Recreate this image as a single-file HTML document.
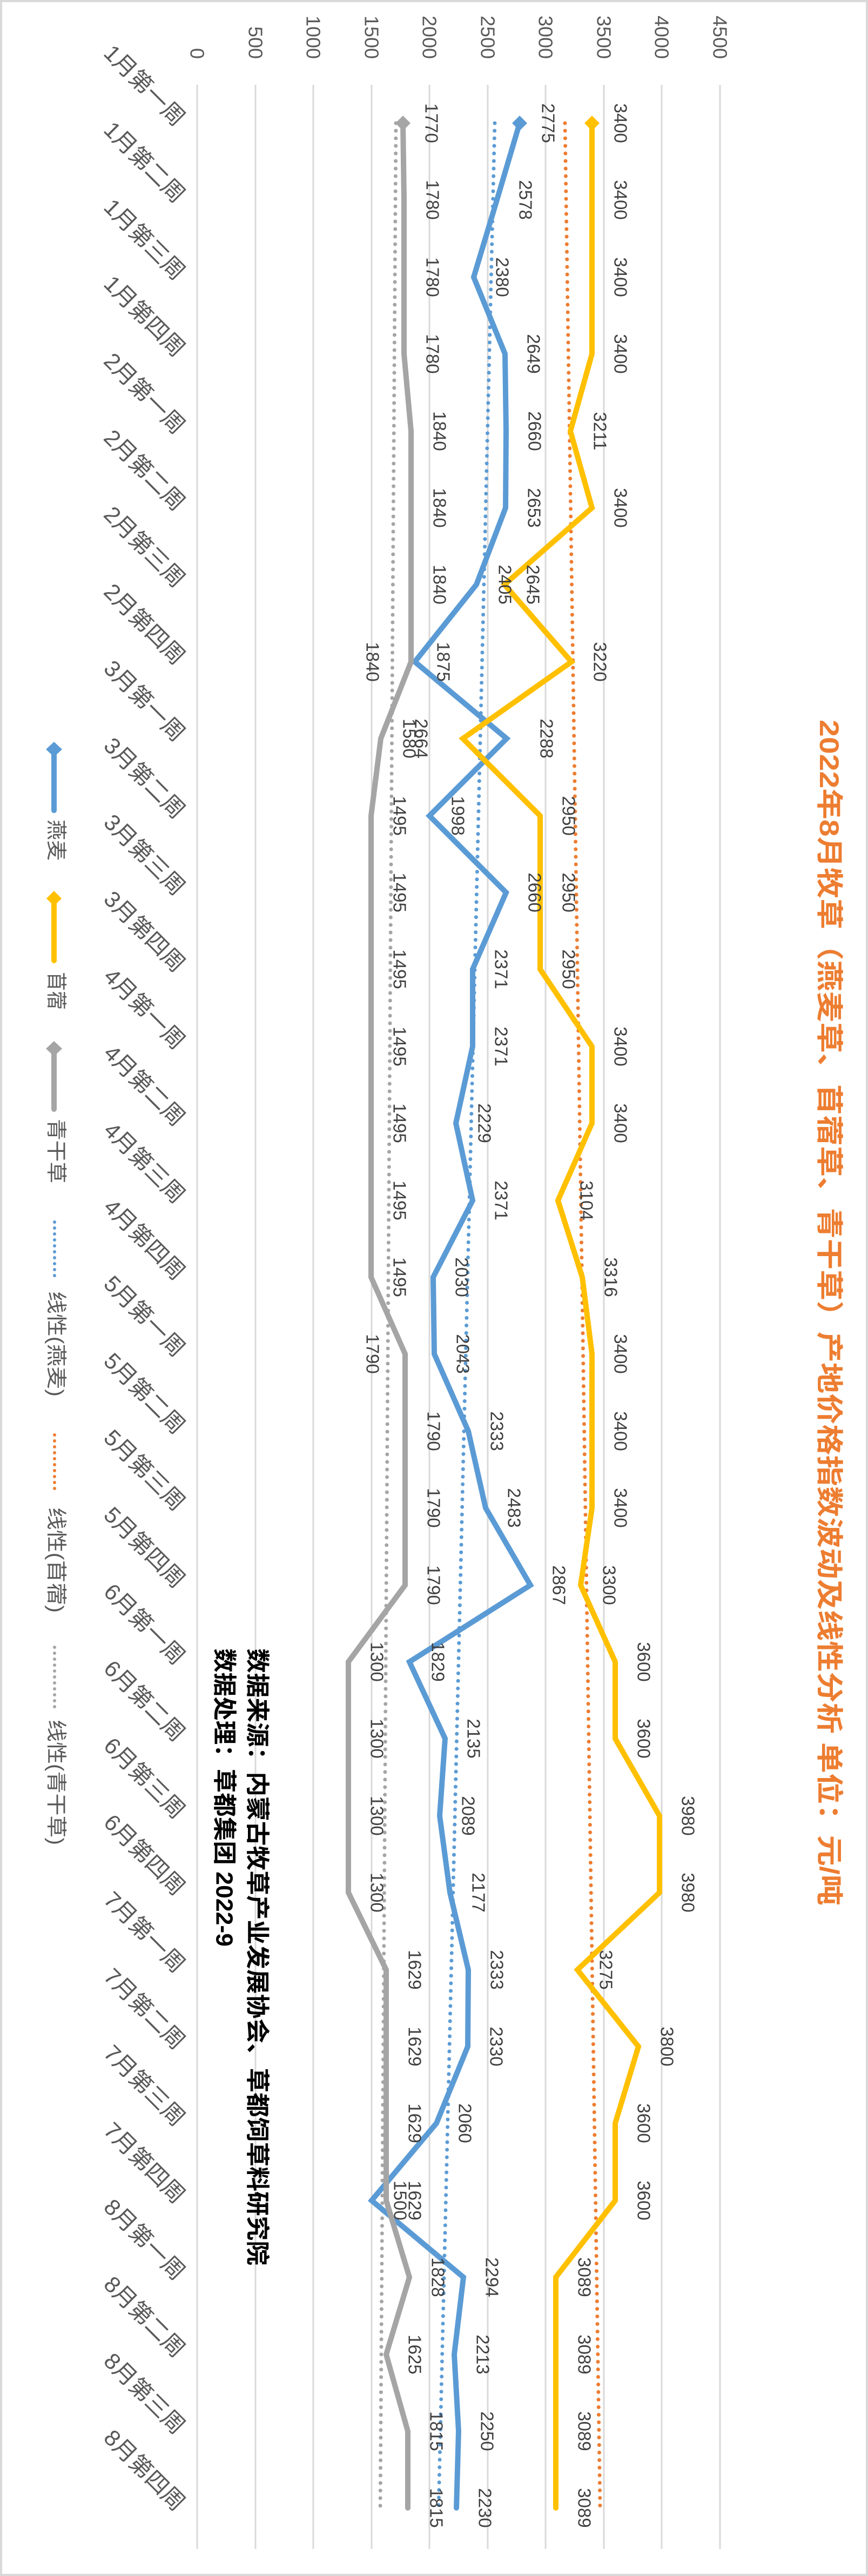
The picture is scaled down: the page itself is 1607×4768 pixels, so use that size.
<!DOCTYPE html>
<html><head><meta charset="utf-8">
<style>
html,body{margin:0;padding:0;background:#fff;}
svg{display:block;}
.dl{font-family:"Liberation Sans","Noto Sans CJK SC",sans-serif;font-size:33px;fill:#404040;text-anchor:middle;dominant-baseline:central;}
.ax{font-family:"Liberation Sans","Noto Sans CJK SC",sans-serif;font-size:36px;fill:#595959;text-anchor:end;dominant-baseline:central;}
.cat{font-family:"Liberation Sans","Noto Sans CJK SC",sans-serif;font-size:42px;fill:#595959;text-anchor:end;}
.lg{font-family:"Liberation Sans","Noto Sans CJK SC",sans-serif;font-size:38px;fill:#595959;text-anchor:start;dominant-baseline:central;}
.src{font-family:"Liberation Sans","Noto Sans CJK SC",sans-serif;font-size:44px;font-weight:bold;fill:#000;text-anchor:start;dominant-baseline:central;}
.ttl{font-family:"Liberation Sans","Noto Sans CJK SC",sans-serif;font-size:50px;font-weight:bold;fill:#ED7D31;text-anchor:start;dominant-baseline:central;}
</style></head>
<body>
<svg width="1607" height="4768" viewBox="0 0 1607 4768" xmlns="http://www.w3.org/2000/svg">
<rect x="0" y="0" width="1607" height="4768" fill="#fff"/>
<rect x="2" y="2" width="1603" height="4764" fill="none" stroke="#D9D9D9" stroke-width="4"/>

<g stroke="#D9D9D9" stroke-width="3">
<line x1="365" y1="157" x2="365" y2="4718"/>
<line x1="473" y1="157" x2="473" y2="4718"/>
<line x1="580" y1="157" x2="580" y2="4718"/>
<line x1="688" y1="157" x2="688" y2="4718"/>
<line x1="795" y1="157" x2="795" y2="4718"/>
<line x1="903" y1="157" x2="903" y2="4718"/>
<line x1="1010" y1="157" x2="1010" y2="4718"/>
<line x1="1118" y1="157" x2="1118" y2="4718"/>
<line x1="1225" y1="157" x2="1225" y2="4718"/>
<line x1="1333" y1="157" x2="1333" y2="4718"/>
</g>

<text class="ax" transform="translate(365,109) rotate(90)">0</text>
<text class="ax" transform="translate(473,109) rotate(90)">500</text>
<text class="ax" transform="translate(580,109) rotate(90)">1000</text>
<text class="ax" transform="translate(688,109) rotate(90)">1500</text>
<text class="ax" transform="translate(795,109) rotate(90)">2000</text>
<text class="ax" transform="translate(903,109) rotate(90)">2500</text>
<text class="ax" transform="translate(1010,109) rotate(90)">3000</text>
<text class="ax" transform="translate(1118,109) rotate(90)">3500</text>
<text class="ax" transform="translate(1225,109) rotate(90)">4000</text>
<text class="ax" transform="translate(1333,109) rotate(90)">4500</text>

<g fill="none" stroke-width="7" stroke-linecap="round" stroke-dasharray="0 14">
<line x1="1046" y1="228" x2="1111" y2="4642" stroke="#ED7D31"/>
<line x1="916" y1="228" x2="812" y2="4642" stroke="#5B9BD5"/>
<line x1="733" y1="228" x2="704" y2="4642" stroke="#A5A5A5"/>
</g>

<g fill="none" stroke-width="10" stroke-linejoin="miter" stroke-linecap="round">
<polyline stroke="#5B9BD5" points="962,228 920,370 877,513 935,655 937,798 936,940 882,1082 768,1225 938,1367 795,1510 937,1652 875,1794 875,1937 844,2079 875,2222 802,2364 804,2506 867,2649 899,2791 982,2934 758,3076 824,3218 814,3361 833,3503 867,3646 866,3788 808,3930 688,4073 858,4215 841,4358 849,4500 845,4642"/>
<polyline stroke="#FFC000" points="1096,228 1096,370 1096,513 1096,655 1056,798 1096,940 934,1082 1058,1225 857,1367 1000,1510 1000,1652 1000,1794 1096,1937 1096,2079 1033,2222 1078,2364 1096,2506 1096,2649 1096,2791 1075,2934 1139,3076 1139,3218 1221,3361 1221,3503 1069,3646 1182,3788 1139,3930 1139,4073 1029,4215 1029,4358 1029,4500 1029,4642"/>
<polyline stroke="#A5A5A5" points="746,228 748,370 748,513 748,655 761,798 761,940 761,1082 761,1225 705,1367 687,1510 687,1652 687,1794 687,1937 687,2079 687,2222 687,2364 750,2506 750,2649 750,2791 750,2934 645,3076 645,3218 645,3361 645,3503 715,3646 715,3788 715,3930 715,4073 758,4215 715,4358 755,4500 755,4642"/>
</g>
<polygon fill="#5B9BD5" points="962,214 976,228 962,242 948,228"/>
<polygon fill="#FFC000" points="1096,214 1110,228 1096,242 1082,228"/>
<polygon fill="#A5A5A5" points="746,214 760,228 746,242 732,228"/>

<g class="dl">
<text transform="translate(1015,228) rotate(90)">2775</text>
<text transform="translate(973,370) rotate(90)">2578</text>
<text transform="translate(930,513) rotate(90)">2380</text>
<text transform="translate(988,655) rotate(90)">2649</text>
<text transform="translate(990,798) rotate(90)">2660</text>
<text transform="translate(989,940) rotate(90)">2653</text>
<text transform="translate(935,1082) rotate(90)">2405</text>
<text transform="translate(821,1225) rotate(90)">1875</text>
<text transform="translate(780,1367) rotate(90)">2664</text>
<text transform="translate(848,1510) rotate(90)">1998</text>
<text transform="translate(990,1652) rotate(90)">2660</text>
<text transform="translate(928,1794) rotate(90)">2371</text>
<text transform="translate(928,1937) rotate(90)">2371</text>
<text transform="translate(897,2079) rotate(90)">2229</text>
<text transform="translate(928,2222) rotate(90)">2371</text>
<text transform="translate(855,2364) rotate(90)">2030</text>
<text transform="translate(857,2506) rotate(90)">2043</text>
<text transform="translate(920,2649) rotate(90)">2333</text>
<text transform="translate(952,2791) rotate(90)">2483</text>
<text transform="translate(1035,2934) rotate(90)">2867</text>
<text transform="translate(811,3076) rotate(90)">1829</text>
<text transform="translate(877,3218) rotate(90)">2135</text>
<text transform="translate(867,3361) rotate(90)">2089</text>
<text transform="translate(886,3503) rotate(90)">2177</text>
<text transform="translate(920,3646) rotate(90)">2333</text>
<text transform="translate(919,3788) rotate(90)">2330</text>
<text transform="translate(861,3930) rotate(90)">2060</text>
<text transform="translate(741,4073) rotate(90)">1500</text>
<text transform="translate(911,4215) rotate(90)">2294</text>
<text transform="translate(894,4358) rotate(90)">2213</text>
<text transform="translate(902,4500) rotate(90)">2250</text>
<text transform="translate(898,4642) rotate(90)">2230</text>
</g>
<g class="dl">
<text transform="translate(1149,228) rotate(90)">3400</text>
<text transform="translate(1149,370) rotate(90)">3400</text>
<text transform="translate(1149,513) rotate(90)">3400</text>
<text transform="translate(1149,655) rotate(90)">3400</text>
<text transform="translate(1111,798) rotate(90)">3211</text>
<text transform="translate(1149,940) rotate(90)">3400</text>
<text transform="translate(987,1082) rotate(90)">2645</text>
<text transform="translate(1111,1225) rotate(90)">3220</text>
<text transform="translate(1012,1367) rotate(90)">2288</text>
<text transform="translate(1053,1510) rotate(90)">2950</text>
<text transform="translate(1053,1652) rotate(90)">2950</text>
<text transform="translate(1053,1794) rotate(90)">2950</text>
<text transform="translate(1149,1937) rotate(90)">3400</text>
<text transform="translate(1149,2079) rotate(90)">3400</text>
<text transform="translate(1086,2222) rotate(90)">3104</text>
<text transform="translate(1131,2364) rotate(90)">3316</text>
<text transform="translate(1149,2506) rotate(90)">3400</text>
<text transform="translate(1149,2649) rotate(90)">3400</text>
<text transform="translate(1149,2791) rotate(90)">3400</text>
<text transform="translate(1128,2934) rotate(90)">3300</text>
<text transform="translate(1192,3076) rotate(90)">3600</text>
<text transform="translate(1192,3218) rotate(90)">3600</text>
<text transform="translate(1274,3361) rotate(90)">3980</text>
<text transform="translate(1274,3503) rotate(90)">3980</text>
<text transform="translate(1122,3646) rotate(90)">3275</text>
<text transform="translate(1235,3788) rotate(90)">3800</text>
<text transform="translate(1192,3930) rotate(90)">3600</text>
<text transform="translate(1192,4073) rotate(90)">3600</text>
<text transform="translate(1082,4215) rotate(90)">3089</text>
<text transform="translate(1082,4358) rotate(90)">3089</text>
<text transform="translate(1082,4500) rotate(90)">3089</text>
<text transform="translate(1082,4642) rotate(90)">3089</text>
</g>
<g class="dl">
<text transform="translate(799,228) rotate(90)">1770</text>
<text transform="translate(801,370) rotate(90)">1780</text>
<text transform="translate(801,513) rotate(90)">1780</text>
<text transform="translate(801,655) rotate(90)">1780</text>
<text transform="translate(814,798) rotate(90)">1840</text>
<text transform="translate(814,940) rotate(90)">1840</text>
<text transform="translate(814,1082) rotate(90)">1840</text>
<text transform="translate(690,1225) rotate(90)">1840</text>
<text transform="translate(758,1367) rotate(90)">1580</text>
<text transform="translate(740,1510) rotate(90)">1495</text>
<text transform="translate(740,1652) rotate(90)">1495</text>
<text transform="translate(740,1794) rotate(90)">1495</text>
<text transform="translate(740,1937) rotate(90)">1495</text>
<text transform="translate(740,2079) rotate(90)">1495</text>
<text transform="translate(740,2222) rotate(90)">1495</text>
<text transform="translate(740,2364) rotate(90)">1495</text>
<text transform="translate(690,2506) rotate(90)">1790</text>
<text transform="translate(803,2649) rotate(90)">1790</text>
<text transform="translate(803,2791) rotate(90)">1790</text>
<text transform="translate(803,2934) rotate(90)">1790</text>
<text transform="translate(698,3076) rotate(90)">1300</text>
<text transform="translate(698,3218) rotate(90)">1300</text>
<text transform="translate(698,3361) rotate(90)">1300</text>
<text transform="translate(698,3503) rotate(90)">1300</text>
<text transform="translate(768,3646) rotate(90)">1629</text>
<text transform="translate(768,3788) rotate(90)">1629</text>
<text transform="translate(768,3930) rotate(90)">1629</text>
<text transform="translate(768,4073) rotate(90)">1629</text>
<text transform="translate(811,4215) rotate(90)">1828</text>
<text transform="translate(768,4358) rotate(90)">1625</text>
<text transform="translate(808,4500) rotate(90)">1815</text>
<text transform="translate(808,4642) rotate(90)">1815</text>
</g>

<g class="cat">
<text transform="translate(325,236) rotate(45)">1月第一周</text>
<text transform="translate(325,378) rotate(45)">1月第二周</text>
<text transform="translate(325,521) rotate(45)">1月第三周</text>
<text transform="translate(325,663) rotate(45)">1月第四周</text>
<text transform="translate(325,806) rotate(45)">2月第一周</text>
<text transform="translate(325,948) rotate(45)">2月第二周</text>
<text transform="translate(325,1090) rotate(45)">2月第三周</text>
<text transform="translate(325,1233) rotate(45)">2月第四周</text>
<text transform="translate(325,1375) rotate(45)">3月第一周</text>
<text transform="translate(325,1518) rotate(45)">3月第二周</text>
<text transform="translate(325,1660) rotate(45)">3月第三周</text>
<text transform="translate(325,1802) rotate(45)">3月第四周</text>
<text transform="translate(325,1945) rotate(45)">4月第一周</text>
<text transform="translate(325,2087) rotate(45)">4月第二周</text>
<text transform="translate(325,2230) rotate(45)">4月第三周</text>
<text transform="translate(325,2372) rotate(45)">4月第四周</text>
<text transform="translate(325,2514) rotate(45)">5月第一周</text>
<text transform="translate(325,2657) rotate(45)">5月第二周</text>
<text transform="translate(325,2799) rotate(45)">5月第三周</text>
<text transform="translate(325,2942) rotate(45)">5月第四周</text>
<text transform="translate(325,3084) rotate(45)">6月第一周</text>
<text transform="translate(325,3226) rotate(45)">6月第二周</text>
<text transform="translate(325,3369) rotate(45)">6月第三周</text>
<text transform="translate(325,3511) rotate(45)">6月第四周</text>
<text transform="translate(325,3654) rotate(45)">7月第一周</text>
<text transform="translate(325,3796) rotate(45)">7月第二周</text>
<text transform="translate(325,3938) rotate(45)">7月第三周</text>
<text transform="translate(325,4081) rotate(45)">7月第四周</text>
<text transform="translate(325,4223) rotate(45)">8月第一周</text>
<text transform="translate(325,4366) rotate(45)">8月第二周</text>
<text transform="translate(325,4508) rotate(45)">8月第三周</text>
<text transform="translate(325,4650) rotate(45)">8月第四周</text>
</g>

<g stroke-width="10" stroke-linecap="round" fill="none">
<line x1="100" y1="1390" x2="100" y2="1500" stroke="#5B9BD5"/>
<line x1="100" y1="1666" x2="100" y2="1778" stroke="#FFC000"/>
<line x1="100" y1="1944" x2="100" y2="2053" stroke="#A5A5A5"/>
</g>
<polygon fill="#5B9BD5" points="100,1373 115,1387 100,1401 85,1387"/>
<polygon fill="#FFC000" points="100,1649 114,1663 100,1677 86,1663"/>
<polygon fill="#A5A5A5" points="100,1927 115,1941 100,1955 85,1941"/>
<g stroke-width="6" stroke-linecap="round" fill="none" stroke-dasharray="0 11">
<line x1="101" y1="2262" x2="101" y2="2372" stroke="#5B9BD5"/>
<line x1="101" y1="2656" x2="101" y2="2766" stroke="#ED7D31"/>
<line x1="101" y1="3049" x2="101" y2="3164" stroke="#A5A5A5"/>
</g>
<g class="lg">
<text transform="translate(103,1517) rotate(90)" textLength="76" lengthAdjust="spacingAndGlyphs">燕麦</text>
<text transform="translate(103,1799) rotate(90)" textLength="70" lengthAdjust="spacingAndGlyphs">苜蓿</text>
<text transform="translate(103,2071) rotate(90)" textLength="119" lengthAdjust="spacingAndGlyphs">青干草</text>
<text transform="translate(103,2390) rotate(90)" textLength="195" lengthAdjust="spacingAndGlyphs">线性(燕麦)</text>
<text transform="translate(103,2790) rotate(90)" textLength="195" lengthAdjust="spacingAndGlyphs">线性(苜蓿)</text>
<text transform="translate(103,3183) rotate(90)" textLength="232" lengthAdjust="spacingAndGlyphs">线性(青干草)</text>
</g>

<text class="src" transform="translate(476,3051) rotate(90)" textLength="1142" lengthAdjust="spacingAndGlyphs">数据来源：内蒙古牧草产业发展协会、草都饲草料研究院</text>
<text class="src" transform="translate(415,3051) rotate(90)" textLength="552" lengthAdjust="spacingAndGlyphs">数据处理：草都集团 2022-9</text>

<text class="ttl" transform="translate(1535,1332) rotate(90)" textLength="2195" lengthAdjust="spacingAndGlyphs">2022年8月牧草（燕麦草、苜蓿草、青干草）产地价格指数波动及线性分析 单位：元/吨</text>
</svg>
</body></html>
